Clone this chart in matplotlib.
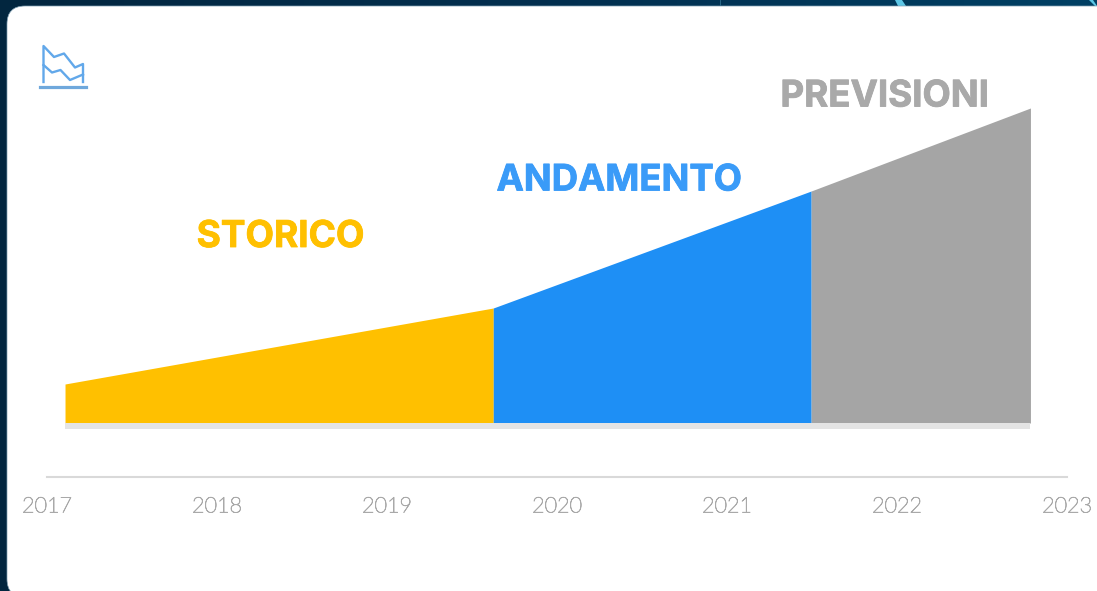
import matplotlib
matplotlib.use("Agg")
import matplotlib.pyplot as plt
import numpy as np
from matplotlib.colors import LinearSegmentedColormap
from matplotlib.patches import FancyBboxPatch, Polygon
import matplotlib.patheffects as pe

# ============================
# DATA
# ============================

years = [2017, 2018, 2019, 2020, 2021, 2022, 2023]

storico_x = [2017.106, 2019.625]
storico_y = [39, 115]
andamento_x = [2019.625, 2021.495]
andamento_y = [115, 232]
previsioni_x = [2021.495, 2022.785]
previsioni_y = [232, 315]

# ============================
# FIGURE AND BACKGROUND
# ============================

W, H = 1097, 591
fig = plt.figure(figsize=(W / 100, H / 100), dpi=100, facecolor="#02263f")

bg = fig.add_axes([0, 0, 1, 1])
bg.set_xlim(0, W)
bg.set_ylim(H, 0)
bg.axis("off")

# top edge of the slide behind the card, dark on the left and bluer on the right
strip = LinearSegmentedColormap.from_list("strip", ["#02263f", "#022f4f", "#004064"])
bg.imshow(np.linspace(0, 1, 256).reshape(1, -1), cmap=strip, extent=(0, W, 7, 0), aspect="auto")
bg.set_xlim(0, W)
bg.set_ylim(H, 0)
bg.add_patch(Polygon([(895, 0), (902, 0), (906, 6), (898, 6)], fc="#5cc6e6", ec="none"))
bg.add_patch(Polygon([(1089, 0), (1093, 0), (1097, 6), (1095, 6)], fc="#5cc6e6", ec="none"))
bg.plot([720, 720], [0, 5], color="#2f6f8f", lw=0.6)

bg.add_patch(FancyBboxPatch((7 + 18, 6 + 18), W + 60, H - 6 - 36 + 6,
                            boxstyle="round,pad=18,rounding_size=18",
                            fc="white", ec="#7f9fb2", lw=0.5))

# small chart icon, top left
icon_color = "#62a8ea"
bg.plot([43.5, 43.5, 54, 64, 75, 83, 83], [82, 46, 57, 53.5, 67.5, 64, 82], color=icon_color, lw=1.7)
bg.plot([43.5, 52, 60.5, 70, 83], [65, 72.5, 70, 80, 74.5], color=icon_color, lw=1.7)
bg.plot([40, 86], [87, 87], color="#6fa8dc", lw=2.3)

# ============================
# PLOT CHART
# ============================

# axis line at y=477 px, 2017 at x=47 px and 2023 at x=1067 px
ax = fig.add_axes([47 / W, (H - 477) / H, (1067 - 47) / W, 477 / H])
ax.patch.set_alpha(0)
ax.set_xlim(2017, 2023)
ax.set_ylim(-54, 423)

ax.fill_between(storico_x, storico_y, 0, color="#ffc000", lw=0)
ax.fill_between(andamento_x, andamento_y, 0, color="#1e8ff5", lw=0)
ax.fill_between(previsioni_x, previsioni_y, 0, color="#a5a5a5", lw=0)

# light floor under the areas
ax.fill_between([storico_x[0], previsioni_x[1]], 0, -6, color="#e4e4e4", lw=0)

for side in ["top", "left", "right"]:
    ax.spines[side].set_visible(False)
ax.spines["bottom"].set_color("#d9d9d9")
ax.spines["bottom"].set_linewidth(1.5)
ax.set_yticks([])
ax.set_xticks(years)
labels = ax.set_xticklabels([str(y) for y in years], fontfamily="Lato", fontweight="light",
                            fontsize=15.5, color="#a9a9a9")
# the light Lato comes out too faint on its own
for lab in labels:
    lab.set_path_effects([pe.withStroke(linewidth=0.55, foreground="#a9a9a9")])
ax.tick_params(axis="x", length=0, pad=14)

# ============================
# LABELS
# ============================

thick = [pe.withStroke(linewidth=0.6, foreground="#ffc000")]
ax.text(2018.374, 186, "STORICO", ha="center", va="center", fontfamily="Inter",
        fontweight="bold", fontsize=26.6, color="#ffc000", path_effects=thick)
thick = [pe.withStroke(linewidth=0.6, foreground="#3a9bf8")]
ax.text(2020.365, 242, "ANDAMENTO", ha="center", va="center", fontfamily="Inter",
        fontweight="bold", fontsize=26.3, color="#3a9bf8", path_effects=thick)
thick = [pe.withStroke(linewidth=0.6, foreground="#a9a9a9")]
ax.text(2021.926, 326, "PREVISIONI", ha="center", va="center", fontfamily="Inter",
        fontweight="bold", fontsize=26.4, color="#a9a9a9", path_effects=thick)

# ============================
# SAVE RESULT
# ============================

fig.savefig("out.png", dpi=100, facecolor=fig.get_facecolor())
